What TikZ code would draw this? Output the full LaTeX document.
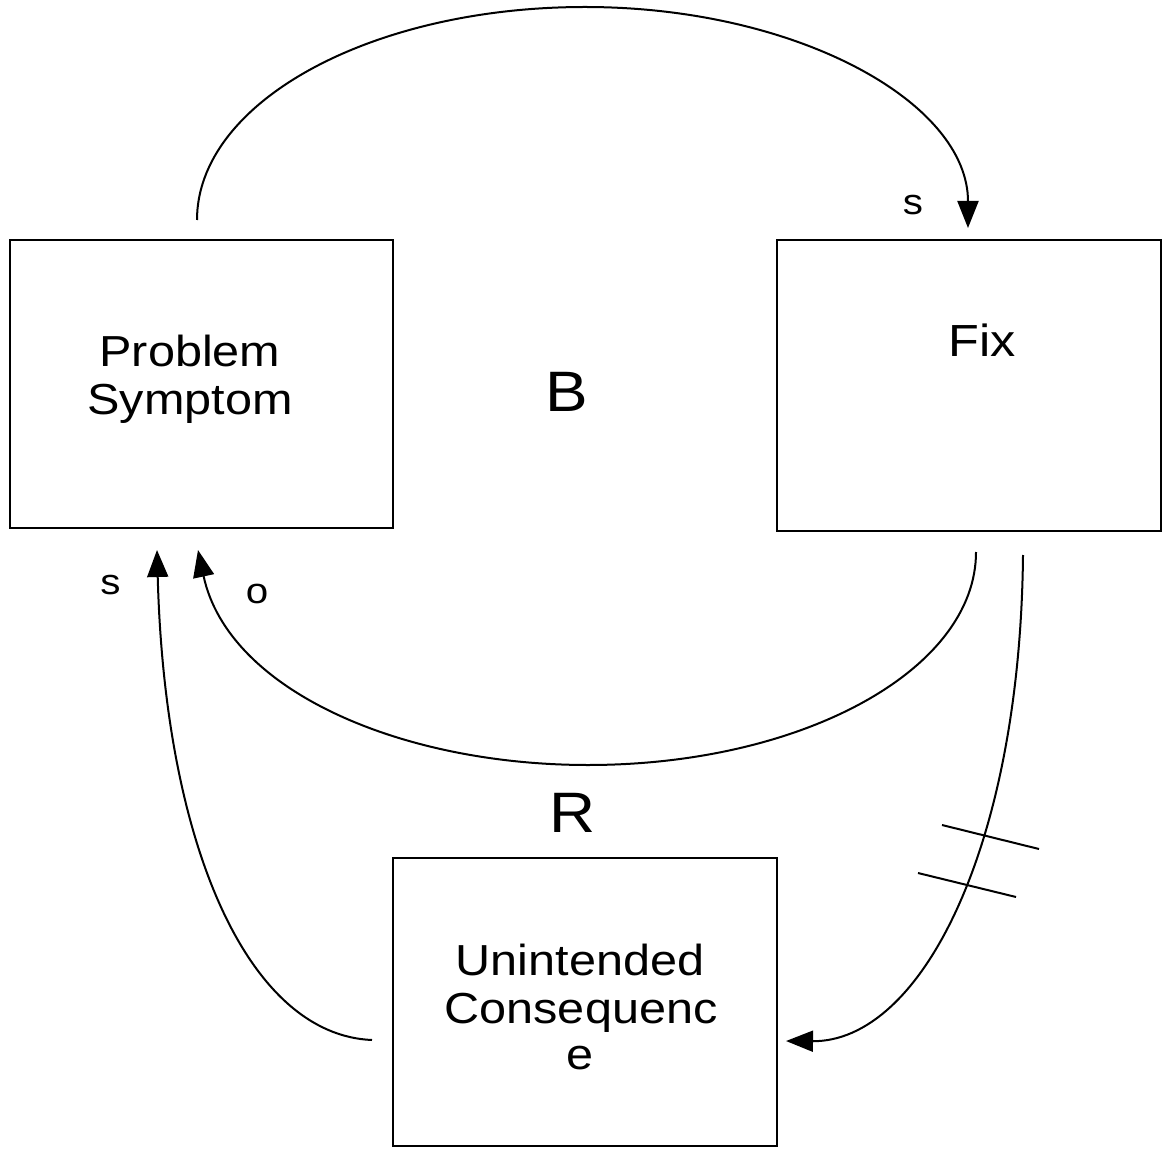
\documentclass[tikz,border=0pt]{standalone}
\usepackage{fontspec}
\setmainfont{Liberation Sans}[FakeStretch=1.12]
\usetikzlibrary{arrows.meta}
\begin{document}
\begin{tikzpicture}[x=0.5pt,y=-0.5pt,
  box/.style={draw, line width=1.3pt, rectangle, inner sep=0pt, outer sep=0pt},
  txt/.style={anchor=base, inner sep=0pt, font=\fontsize{21.7}{24}\selectfont},
  fixtxt/.style={anchor=base, inner sep=0pt, font=\fontsize{22.5}{24}\selectfont},
  big/.style={anchor=base, inner sep=0pt, font=\fontsize{28.5}{30}\selectfont},
  pol/.style={anchor=base, inner sep=0pt, font=\fontsize{18}{20}\selectfont},
  link/.style={line width=1pt, -{Triangle[length=13.5pt,width=10.5pt]}},
  hash/.style={line width=1pt}]
\useasboundingbox (0,0) rectangle (1165,1149);
% boxes
\node[box, minimum width=191.5pt, minimum height=144pt] (ps) at (201.5,384) {};
\node[box, minimum width=192pt, minimum height=145.5pt] (fix) at (969,385.5) {};
\node[box, minimum width=192pt, minimum height=144pt] (uc) at (585,1002) {};
% box texts
\node[txt] (ps1) at (190,367) {Problem};
\node[txt] (ps2) at (190,415) {Symptom};
\node[fixtxt] (fix1) at (982,357) {Fix};
\node[txt] (uc1) at (580,975) {Unintended};
\node[txt] (uc2) at (581,1023) {Consequenc};
\node[txt] (uc3) at (580,1069) {e};
% loop labels
\node[big] (B) at (567,411) {B};
\node[big] (R) at (573,832) {R};
\node[pol] (s1) at (913,215) {s};
\node[pol] (s2) at (110.5,594) {s};
\node[pol] (o1) at (257,603) {o};
% connector end points
\coordinate (psOut) at (197,220);
\coordinate (fixIn) at (968,228);
\coordinate (fixOutA) at (976,552);
\coordinate (psInA) at (198,550);
\coordinate (fixOutB) at (1023,555);
\coordinate (ucIn) at (786,1041);
\coordinate (ucOut) at (372,1040);
\coordinate (psInB) at (157,550);
% connectors
\draw[link] (psOut) .. controls (197,102) and (371,7) .. (585,7)
  .. controls (796,7) and (968,102) .. (fixIn);
\draw[link] (fixOutA) .. controls (976,670) and (802,765) .. (588,765)
  .. controls (400,765) and (228,690) .. (psInA);
\draw[link] (fixOutB) .. controls (1020,850) and (920,1042) .. (ucIn);
\draw[link] (ucOut) .. controls (250,1035) and (165,850) .. (psInB);
% delay marks
\draw[hash] (942,825) -- (1039,849);
\draw[hash] (918,873) -- (1016,897);
\end{tikzpicture}
\end{document}
